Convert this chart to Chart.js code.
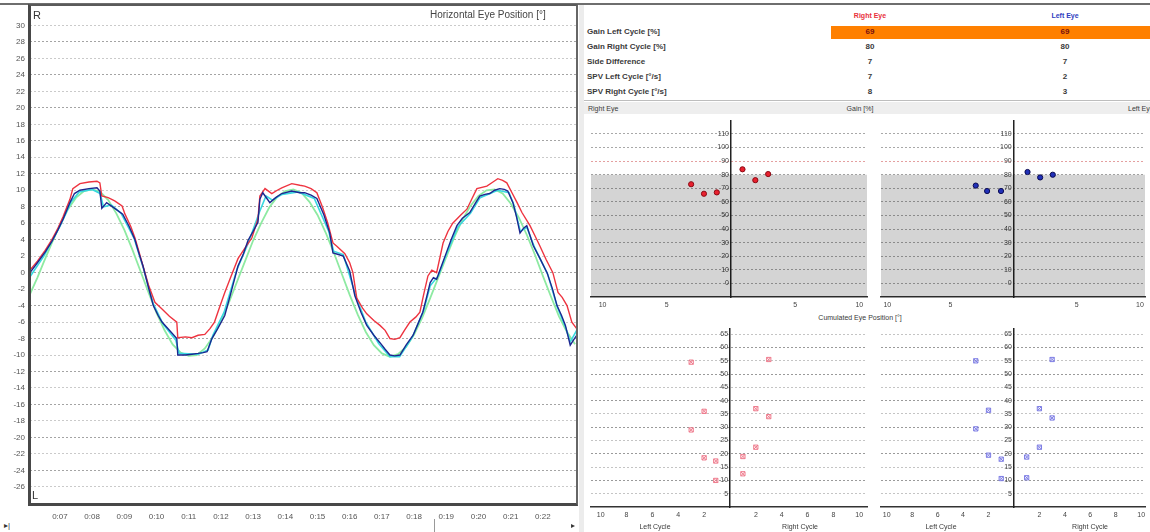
<!DOCTYPE html>
<html>
<head>
<meta charset="utf-8">
<title>Horizontal Eye Position</title>
<script src="https://cdn.jsdelivr.net/npm/chart.js@4.4.1/dist/chart.umd.min.js"></script>
<style>
  body { margin:0; width:1150px; height:532px; overflow:hidden; background:#fff; position:relative; font-family:"Liberation Sans", Arial, sans-serif; }
  canvas, .t, .blk { position:absolute; }
  .t { white-space:nowrap; color:#333; line-height:1; }
  .row { font-size:8px; font-weight:bold; color:#3a3a3a; }
  .sm { font-size:7px; font-weight:normal; }
  .c { transform:translateX(-50%); }
</style>
</head>
<body>

<!-- Courbe principale -->
<canvas id="main-chart" width="580" height="520" style="left:0;top:0"></canvas>
<div class="blk" style="left:0;top:3px;width:1150px;height:2px;background:#6e6e6e"></div>
<div class="blk" style="left:28px;top:4px;width:550px;height:502px;box-sizing:border-box;border-left:3px solid #484848;border-bottom:3px solid #484848;border-top:2px solid #5a5a5a;border-right:2px solid #666"></div>
<div class="t" style="left:33px;top:10px;font-size:11px">R</div>
<div class="t" style="left:32px;top:490px;font-size:11px">L</div>
<div class="t" style="left:430px;top:10px;font-size:10px;color:#444">Horizontal Eye Position [°]</div>
<div class="t" style="left:4px;top:522px;font-size:8px;color:#333">▸|</div>
<div class="blk" style="left:434px;top:519px;width:1px;height:13px;background:#999"></div>
<div class="t" style="left:571px;top:522px;font-size:8px;color:#333">▸</div>
<div class="blk" style="left:579px;top:5px;width:5px;height:527px;background:#ececec"></div>

<!-- Tableau des résultats -->
<div class="blk" style="left:831px;top:26px;width:319px;height:13px;background:#ff8000"></div>
<div class="t row c sm" style="left:870px;top:12px;color:#e8303c;font-weight:bold">Right Eye</div>
<div class="t row c sm" style="left:1065px;top:12px;color:#3040c0;font-weight:bold">Left Eye</div>
<div class="t row" style="left:587px;top:28px">Gain Left Cycle [%]</div>
<div class="t row" style="left:587px;top:43px">Gain Right Cycle [%]</div>
<div class="t row" style="left:587px;top:58px">Side Difference</div>
<div class="t row" style="left:587px;top:73px">SPV Left Cycle [°/s]</div>
<div class="t row" style="left:587px;top:88px">SPV Right Cycle [°/s]</div>
<div class="t row c" style="left:870px;top:28px;color:#7a1010">69</div>
<div class="t row c" style="left:1065px;top:28px;color:#7a1010">69</div>
<div class="t row c" style="left:870px;top:43px">80</div>
<div class="t row c" style="left:1065px;top:43px">80</div>
<div class="t row c" style="left:870px;top:58px">7</div>
<div class="t row c" style="left:1065px;top:58px">7</div>
<div class="t row c" style="left:870px;top:73px">7</div>
<div class="t row c" style="left:1065px;top:73px">2</div>
<div class="t row c" style="left:870px;top:88px">8</div>
<div class="t row c" style="left:1065px;top:88px">3</div>
<div class="blk" style="left:584px;top:100px;width:566px;height:1px;background:#bdbdbd"></div>
<div class="blk" style="left:584px;top:102px;width:566px;height:12px;background:#eeeeee"></div>
<div class="t row sm" style="left:588px;top:105px">Right Eye</div>
<div class="t row c sm" style="left:860px;top:105px">Gain [%]</div>
<div class="t row sm" style="left:1128px;top:105px">Left Eye</div>
<div class="t row c sm" style="left:860px;top:314px">Cumulated Eye Position [°]</div>

<!-- Graphiques gain et position cumulée -->
<canvas id="gain-right-eye" width="286" height="198" style="left:586px;top:114px"></canvas>
<canvas id="gain-left-eye" width="274" height="198" style="left:876px;top:114px"></canvas>
<canvas id="cum-right-eye" width="286" height="200" style="left:586px;top:322px"></canvas>
<canvas id="cum-left-eye" width="274" height="200" style="left:876px;top:322px"></canvas>
<div class="t row c sm" style="left:655px;top:523px">Left Cycle</div>
<div class="t row c sm" style="left:800px;top:523px">Right Cycle</div>
<div class="t row c sm" style="left:941px;top:523px">Left Cycle</div>
<div class="t row c sm" style="left:1090px;top:523px">Right Cycle</div>

<script>
// Données

// Axe du temps (secondes) et graduations
const timeTicks = [7, 8, 9, 10, 11, 12, 13, 14, 15, 16, 17, 18, 19, 20, 21, 22];
const posTicks = [-26, -24, -22, -20, -18, -16, -14, -12, -10, -8, -6, -4, -2, 0, 2, 4, 6, 8, 10, 12, 14, 16, 18, 20, 22, 24, 26, 28, 30];

// Oeil droit (rouge)
const rightEyeT = [6.07, 6.3, 6.54, 6.75, 6.94, 7.1, 7.31, 7.4, 7.62, 7.9, 8.15, 8.24, 8.3, 8.5, 8.7, 8.93, 9.02, 9.2, 9.33, 9.45, 9.58, 9.75, 9.95, 10.17, 10.4, 10.63, 10.66, 10.9, 11.1, 11.29, 11.5, 11.66, 11.8, 11.95, 12.12, 12.3, 12.53, 12.75, 12.96, 13.15, 13.21, 13.37, 13.58, 13.75, 13.89, 14.2, 14.45, 14.6, 14.8, 14.98, 15.15, 15.32, 15.48, 15.6, 15.85, 16.0, 16.1, 16.22, 16.4, 16.53, 16.75, 16.94, 17.1, 17.25, 17.4, 17.56, 17.7, 17.87, 18.05, 18.18, 18.3, 18.43, 18.55, 18.7, 18.9, 19.05, 19.2, 19.45, 19.64, 19.8, 19.95, 20.26, 20.45, 20.6, 20.75, 20.88, 21.04, 21.2, 21.35, 21.6, 21.75, 21.9, 22.1, 22.31, 22.47, 22.6, 22.75, 22.9, 23.05];
const rightEyeDeg = [0.3, 1.4, 2.7, 4.0, 5.4, 6.8, 8.9, 10.2, 10.8, 11.0, 11.1, 10.9, 9.3, 9.1, 8.7, 8.1, 7.1, 5.6, 4.2, 2.6, 0.8, -1.5, -3.6, -4.4, -5.3, -6.0, -7.9, -7.8, -7.9, -7.6, -7.5, -6.8, -6.0, -4.3, -2.4, -0.6, 1.7, 3.0, 4.2, 6.5, 9.3, 10.2, 9.6, 10.0, 10.3, 10.8, 10.6, 10.5, 10.2, 9.7, 8.0, 6.0, 3.6, 3.2, 2.3, 1.2, 0, -3.1, -4.3, -5.0, -5.8, -6.4, -7.0, -8.0, -8.1, -7.9, -7.0, -6.0, -5.4, -4.8, -2.6, -0.4, 0.3, 0, 3.6, 5.0, 6.0, 7.0, 7.7, 9.0, 10.2, 10.5, 11.0, 11.4, 11.2, 10.9, 9.7, 8.5, 7.3, 5.7, 4.5, 3.3, 1.6, 0, -2.4, -3.0, -4.0, -6.0, -6.8];

// Oeil gauche (bleu)
const leftEyeT = [6.07, 6.3, 6.54, 6.75, 6.94, 7.1, 7.31, 7.45, 7.62, 7.9, 8.15, 8.24, 8.3, 8.45, 8.7, 8.95, 9.15, 9.33, 9.45, 9.58, 9.75, 9.9, 10.05, 10.17, 10.4, 10.63, 10.66, 10.9, 11.1, 11.29, 11.45, 11.57, 11.72, 11.9, 12.12, 12.3, 12.53, 12.7, 12.84, 13.0, 13.15, 13.21, 13.3, 13.52, 13.7, 13.89, 14.2, 14.45, 14.6, 14.8, 14.98, 15.2, 15.38, 15.48, 15.65, 15.8, 16.0, 16.16, 16.35, 16.53, 16.75, 16.94, 17.1, 17.25, 17.4, 17.56, 17.75, 17.97, 18.1, 18.27, 18.4, 18.5, 18.6, 18.7, 18.85, 19.0, 19.15, 19.33, 19.5, 19.73, 19.9, 20.04, 20.2, 20.35, 20.5, 20.66, 20.8, 20.91, 21.07, 21.18, 21.29, 21.4, 21.5, 21.6, 21.7, 21.9, 22.13, 22.3, 22.44, 22.58, 22.7, 22.85, 22.95, 23.05];
const leftEyeDeg = [0, 1.2, 2.5, 3.8, 5.2, 6.5, 8.5, 9.6, 10.0, 10.2, 10.3, 9.9, 7.8, 8.5, 7.8, 7.1, 5.6, 4.0, 2.4, 0.8, -1.8, -4.0, -5.2, -6.0, -7.0, -8.0, -10.0, -10.0, -9.9, -9.8, -9.7, -9.6, -8.0, -6.8, -5.2, -2.6, 0.8, 2.3, 3.9, 5.0, 6.1, 8.9, 9.7, 8.5, 9.1, 9.6, 9.9, 9.7, 9.7, 9.4, 9.0, 7.0, 4.8, 2.4, 2.2, 2.0, 0.2, -2.8, -4.8, -6.4, -7.6, -8.5, -9.3, -10, -10.1, -10, -8.8, -7.6, -6.4, -4.8, -2.8, -1.2, -0.6, -0.8, 0.8, 2.4, 4.0, 5.7, 6.6, 7.3, 8.4, 9.3, 9.5, 9.6, 10.0, 10.2, 10.1, 9.9, 8.5, 6.8, 4.8, 5.4, 5.7, 4.5, 3.3, 1.8, 0, -2.0, -4.0, -5.2, -6.4, -8.8, -8.2, -7.6];

// Trace cyan
const cyanT = [6.07, 6.5, 7.0, 7.35, 7.6, 8.0, 8.25, 8.35, 8.6, 8.9, 9.3, 9.6, 9.9, 10.2, 10.6, 10.7, 11.3, 11.6, 11.75, 12.1, 12.5, 12.85, 13.2, 13.4, 13.6, 13.9, 14.4, 14.9, 15.35, 15.5, 15.8, 16.2, 16.5, 16.9, 17.25, 17.55, 17.95, 18.3, 18.5, 18.75, 19.0, 19.35, 19.75, 20.05, 20.6, 20.95, 21.1, 21.3, 21.5, 21.75, 22.15, 22.45, 22.7, 22.85, 23.05];
const cyanDeg = [-0.5, 2.0, 5.6, 8.6, 9.8, 10.1, 9.6, 8.0, 8.2, 7.2, 4.2, 0.4, -3.8, -6.2, -8.2, -9.8, -9.9, -9.4, -7.6, -4.8, 0.4, 3.6, 7.4, 9.3, 8.8, 9.5, 9.8, 9.0, 5.0, 2.6, 2.2, -3.0, -6.0, -8.6, -10.2, -10.2, -7.8, -4.6, -1.6, -0.4, 2.2, 5.5, 7.2, 9.1, 10.0, 9.7, 8.2, 5.0, 5.5, 3.0, -0.2, -4.2, -6.6, -8.4, -7.0];

// Stimulus (vert)
const targetT = [6.07, 6.3, 6.5, 6.75, 7.0, 7.25, 7.5, 7.75, 8.0, 8.25, 8.5, 8.75, 9.0, 9.25, 9.5, 9.75, 10.0, 10.25, 10.5, 10.75, 11.0, 11.25, 11.5, 11.75, 12.0, 12.25, 12.5, 12.75, 13.0, 13.25, 13.5, 13.75, 14.0, 14.25, 14.5, 14.75, 15.0, 15.25, 15.5, 15.75, 16.0, 16.25, 16.5, 16.75, 17.0, 17.25, 17.5, 17.75, 18.0, 18.25, 18.5, 18.75, 19.0, 19.25, 19.5, 19.75, 20.0, 20.25, 20.5, 20.75, 21.0, 21.25, 21.5, 21.75, 22.0, 22.25, 22.5, 22.75, 23.0];
const targetDeg = [-2.6, -0.6, 1.3, 3.6, 5.8, 7.7, 9.1, 9.9, 10.1, 9.8, 8.8, 7.2, 5.2, 2.8, 0.2, -2.4, -4.9, -7.0, -8.7, -9.7, -10.1, -10.0, -9.2, -7.8, -5.9, -3.6, -1.1, 1.4, 3.9, 6.0, 7.9, 9.2, 9.9, 10.1, 9.7, 8.6, 7.0, 4.9, 2.5, -0.1, -2.7, -5.1, -7.2, -8.8, -9.8, -10.2, -9.9, -9.0, -7.5, -5.5, -3.1, -0.6, 1.9, 4.3, 6.4, 8.1, 9.3, 10.0, 10.1, 9.6, 8.4, 6.7, 4.6, 2.2, -0.4, -2.9, -5.3, -7.2, -8.7];

// Gain par cycle (position cumulée [°] / gain [%])
const gainTicksY = [0, 10, 20, 30, 40, 50, 60, 70, 80, 90, 100, 110];
const gainTicksX = [-10, -5, 0, 5, 10];
const gainNormLimit = 80;
const gainRightEyeX = [-3.1, -2.1, -1.1, 0.9, 1.9, 2.9];
const gainRightEyeY = [73, 66, 67, 84, 76, 80.5];
const gainLeftEyeX = [-3.0, -2.1, -1.0, 1.1, 2.1, 3.1];
const gainLeftEyeY = [72, 68, 68, 82, 78, 80];

// Position cumulée par cycle
const cumTicksY = [5, 10, 15, 20, 25, 30, 35, 40, 45, 50, 55, 60, 65];
const cumTicksX = [-10, -8, -6, -4, -2, 0, 2, 4, 6, 8, 10];
const cumRightEyeX = [-3.0, -2.0, -3.0, -2.0, -1.1, -1.1, 3.0, 2.0, 3.0, 2.0, 1.0, 1.0];
const cumRightEyeY = [54.5, 36, 29, 18.5, 17.3, 10, 55.5, 37, 34, 22.5, 19, 12.5];
const cumLeftEyeX = [-3.0, -2.0, -3.0, -2.0, -1.0, -1.0, 3.0, 2.0, 3.0, 2.0, 1.0, 1.0];
const cumLeftEyeY = [55, 36.4, 29.4, 19.5, 18, 10.7, 55.5, 37, 33.5, 22.5, 18.8, 11];

Chart.defaults.font.family = '"Liberation Sans", Arial, sans-serif';
Chart.defaults.color = '#555';

function toXY(xs, ys) {
    return xs.map((x, i) => ({ x: x, y: ys[i] }));
}

function fixedTicks(values) {
    return scale => { scale.ticks = values.map(v => ({ value: v })); };
}

/**
 * Graphique principal : position horizontale des yeux
 */
function initMainChart() {
    const line = (data, color, width) => ({
        data: data,
        borderColor: color,
        borderWidth: width,
        pointRadius: 0,
        tension: 0,
        fill: false
    });

    new Chart(document.getElementById('main-chart'), {
        type: 'line',
        data: {
            datasets: [
                line(toXY(leftEyeT, leftEyeDeg), '#1c2690', 1.4),
                line(toXY(rightEyeT, rightEyeDeg), '#ee3440', 1.4),
                line(toXY(cyanT, cyanDeg), '#38d8e0', 1.6),
                line(toXY(targetT, targetDeg), '#8eeaa2', 1.8)
            ]
        },
        options: {
            responsive: false,
            animation: false,
            layout: { padding: { top: 7, right: 3 } },
            plugins: { legend: { display: false }, tooltip: { enabled: false } },
            scales: {
                x: {
                    type: 'linear',
                    min: 6.07,
                    max: 23.06,
                    afterBuildTicks: fixedTicks(timeTicks),
                    afterFit: s => { s.height = 15; },
                    ticks: {
                        autoSkip: false,
                        maxRotation: 0,
                        padding: 7,
                        font: { size: 8 },
                        color: '#555',
                        callback: v => '0:' + String(v).padStart(2, '0')
                    },
                    grid: { display: false, drawTicks: false },
                    border: { display: false }
                },
                y: {
                    min: -28.2,
                    max: 31.9,
                    afterBuildTicks: fixedTicks(posTicks),
                    afterFit: s => { s.width = 30; },
                    ticks: { padding: 5, font: { size: 8 }, color: '#555' },
                    grid: {
                        drawTicks: false,
                        color: ctx => (ctx.tick && ctx.tick.value % 4 === 0) ? '#a4a4a4' : '#cacaca'
                    },
                    border: { display: false, dash: [2, 2] }
                }
            }
        }
    });
}

/**
 * Graphique de gain (un oeil)
 */
function initGainChart(canvasId, xs, ys, fill, stroke, pad, xMin, xMax) {
    new Chart(document.getElementById(canvasId), {
        type: 'scatter',
        data: {
            datasets: [
                {
                    data: toXY(xs, ys),
                    pointStyle: 'circle',
                    pointRadius: 2.6,
                    backgroundColor: fill,
                    borderColor: stroke,
                    borderWidth: 1
                },
                {
                    type: 'line',
                    data: [{ x: -12, y: gainNormLimit }, { x: 12, y: gainNormLimit }],
                    borderWidth: 0,
                    pointRadius: 0,
                    fill: 'start',
                    backgroundColor: 'rgba(0,0,0,0.17)'
                }
            ]
        },
        options: {
            responsive: false,
            animation: false,
            layout: { padding: pad },
            plugins: { legend: { display: false }, tooltip: { enabled: false } },
            scales: {
                x: {
                    type: 'linear',
                    min: xMin,
                    max: xMax,
                    afterBuildTicks: fixedTicks(gainTicksX),
                    afterFit: s => { s.height = 15; },
                    ticks: { autoSkip: false, maxRotation: 0, padding: 4, font: { size: 7 }, color: '#444', callback: v => v === 0 ? '' : Math.abs(v) },
                    grid: { display: false, drawTicks: false },
                    border: { color: '#333', width: 1.5 }
                },
                y: {
                    position: { x: 0 },
                    min: -10,
                    max: 119.4,
                    afterBuildTicks: fixedTicks(gainTicksY),
                    ticks: { font: { size: 7 }, color: '#444', callback: v => v + ' ' },
                    grid: {
                        drawTicks: false,
                        color: ctx => (ctx.tick && ctx.tick.value === 90) ? '#e4a0a0' : '#a8a8a8'
                    },
                    border: { color: '#222', width: 1.5, dash: [2, 2] }
                }
            }
        }
    });
}

/**
 * Graphique de position cumulée (un oeil)
 */
function initCumChart(canvasId, xs, ys, color, pad, xMin, xMax) {
    const pts = toXY(xs, ys);
    new Chart(document.getElementById(canvasId), {
        type: 'scatter',
        data: {
            datasets: [
                { data: pts, pointStyle: 'rect', pointRadius: 3, borderColor: color, backgroundColor: 'rgba(0,0,0,0)', borderWidth: 1 },
                { data: pts, pointStyle: 'crossRot', pointRadius: 3, borderColor: color, borderWidth: 1 }
            ]
        },
        options: {
            responsive: false,
            animation: false,
            layout: { padding: pad },
            plugins: { legend: { display: false }, tooltip: { enabled: false } },
            scales: {
                x: {
                    type: 'linear',
                    min: xMin,
                    max: xMax,
                    afterBuildTicks: fixedTicks(cumTicksX),
                    afterFit: s => { s.height = 15; },
                    ticks: { autoSkip: false, maxRotation: 0, padding: 4, font: { size: 7 }, color: '#444', callback: v => v === 0 ? '' : Math.abs(v) },
                    grid: { display: false, drawTicks: false },
                    border: { color: '#333', width: 1.5 }
                },
                y: {
                    position: { x: 0 },
                    min: 0,
                    max: 66.9,
                    afterBuildTicks: fixedTicks(cumTicksY),
                    ticks: { font: { size: 7 }, color: '#444', callback: v => v + ' ' },
                    grid: {
                        drawTicks: false,
                        color: ctx => (ctx.tick && ctx.tick.value % 10 === 0) ? '#9a9a9a' : '#c4c4c4'
                    },
                    border: { color: '#222', width: 1.5, dash: [2, 2] }
                }
            }
        }
    });
}

initMainChart();
initGainChart('gain-right-eye', gainRightEyeX, gainRightEyeY, '#e8212f', '#8a0a14', { top: 3, left: 2, right: 2 }, -10.9, 10.6);
initGainChart('gain-left-eye', gainLeftEyeX, gainLeftEyeY, '#2030b8', '#0a0a50', { top: 3, left: 2, right: 0 }, -10.5, 10.4);
initCumChart('cum-right-eye', cumRightEyeX, cumRightEyeY, '#ee7a8c', { top: 3, left: 2, right: 2 }, -10.75, 10.6);
initCumChart('cum-left-eye', cumLeftEyeX, cumLeftEyeY, '#7c7ce4', { top: 3, left: 2, right: 0 }, -10.45, 10.3);
</script>
</body>
</html>
